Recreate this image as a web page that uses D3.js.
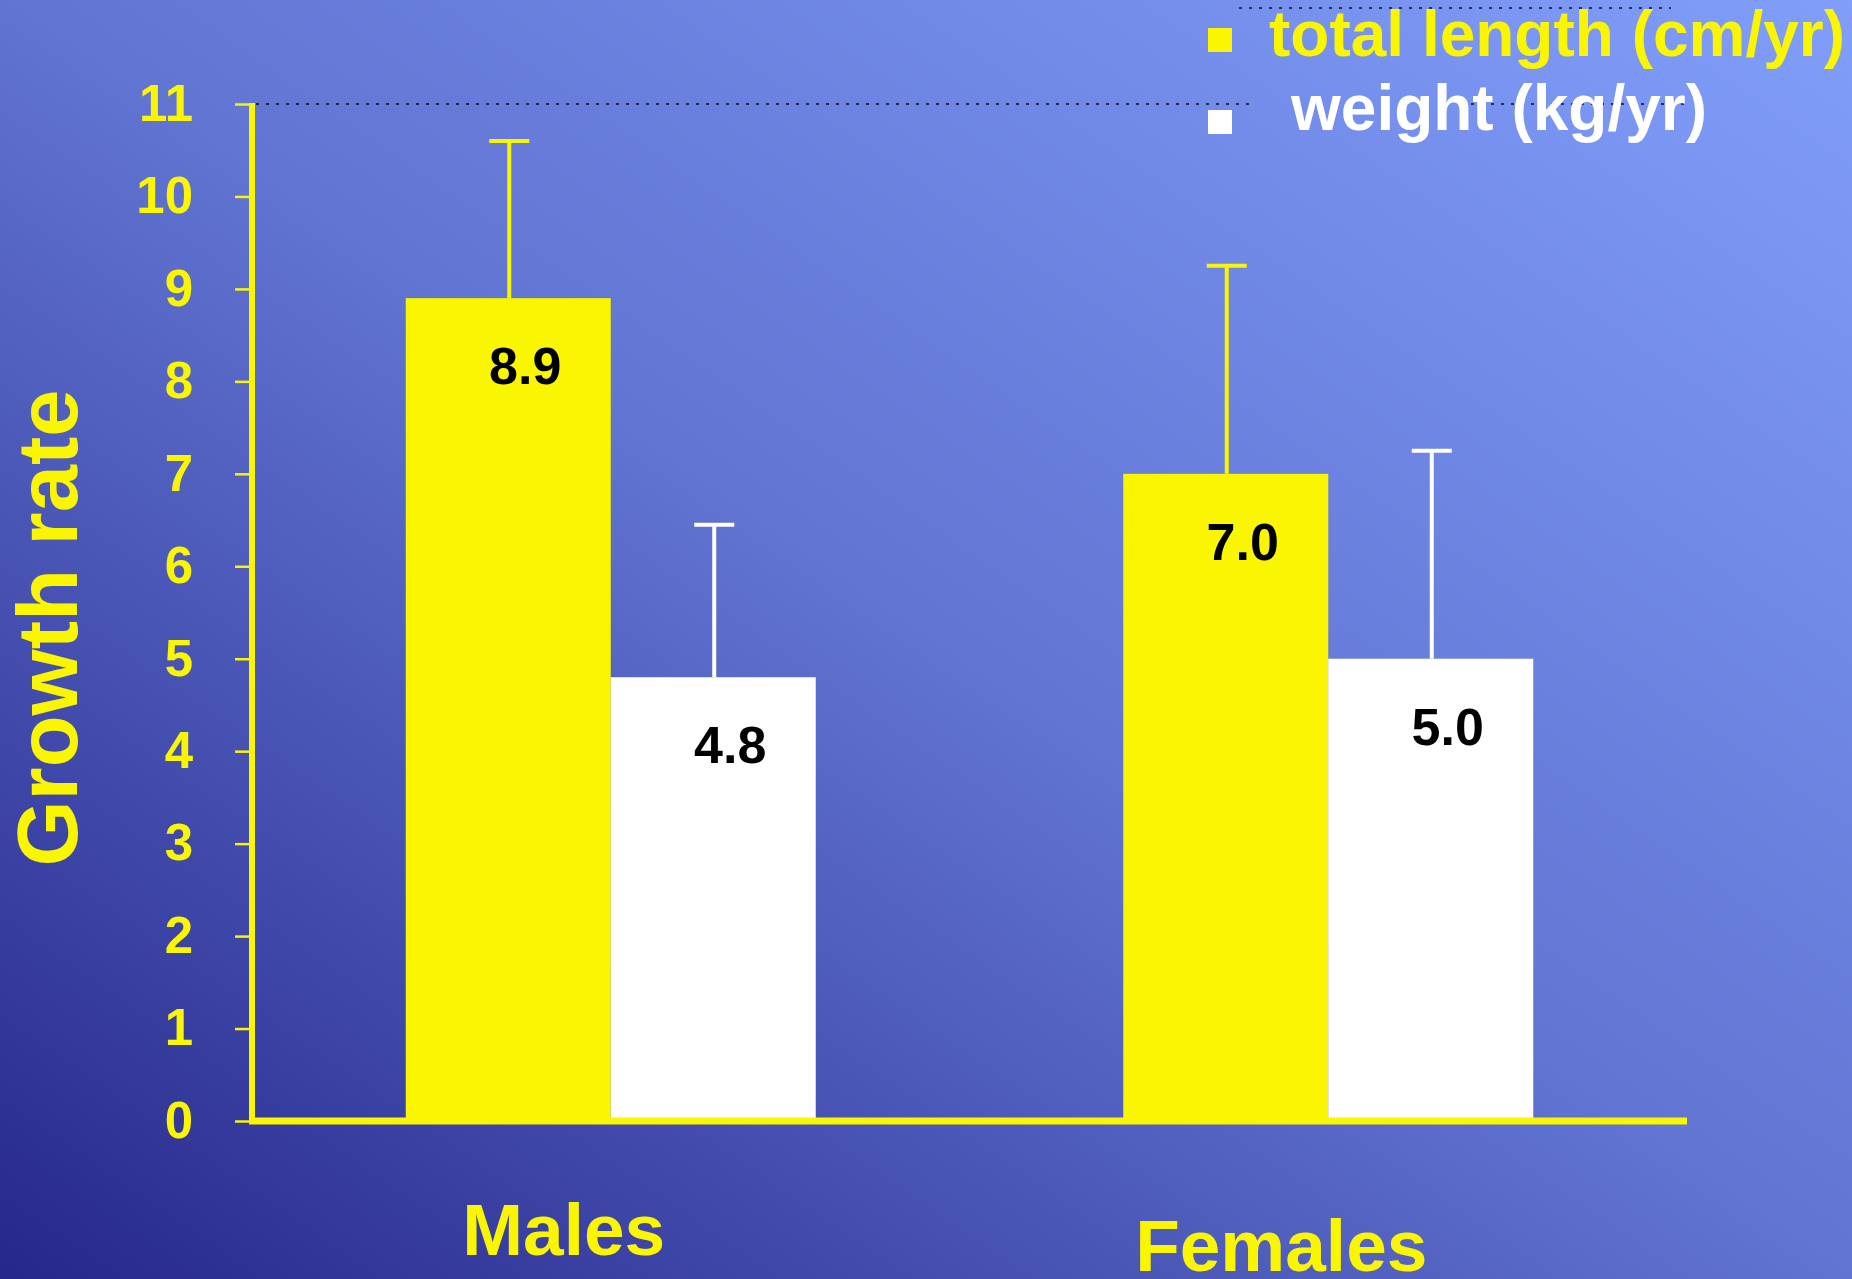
<!DOCTYPE html>
<html>
<head>
<meta charset="utf-8">
<script src="https://cdn.jsdelivr.net/npm/d3@7"></script>
<style>
  html, body { margin: 0; padding: 0; background: #5a6ecc; }
  svg { display: block; }
  text { font-family: "Liberation Sans", Arial, Helvetica, sans-serif; font-weight: bold; }
</style>
</head>
<body>
<svg id="chart" width="1852" height="1279"></svg>
<script>
// Growth rate by sex: mean annual gain with SD whiskers
const categories = ["Males", "Females"];
const seriesNames = ["total length (cm/yr)", "weight (kg/yr)"];
const lengthValues = [8.9, 7.0];
const weightValues = [4.8, 5.0];
const lengthSD = [1.7, 2.25];
const weightSD = [1.65, 2.25];
const yTicks = [0, 1, 2, 3, 4, 5, 6, 7, 8, 9, 10, 11];
const yTitle = "Growth rate";

const YELLOW = "#faf500";
const WHITE = "#ffffff";
const seriesColors = [YELLOW, WHITE];

const W = 1852, H = 1279;
const plot = { left: 252, right: 1687, top: 104, bottom: 1121 };

const svg = d3.select("#chart");

// diagonal backdrop, dark navy bottom-left to periwinkle top-right
const defs = svg.append("defs");
const grad = defs.append("linearGradient")
  .attr("id", "bg").attr("x1", 0).attr("y1", 1).attr("x2", 1).attr("y2", 0);
grad.append("stop").attr("offset", 0).attr("stop-color", "#26278a");
grad.append("stop").attr("offset", 0.5).attr("stop-color", "#6174d2");
grad.append("stop").attr("offset", 1).attr("stop-color", "#819efb");
svg.append("rect").attr("width", W).attr("height", H).attr("fill", "url(#bg)");

const y = d3.scaleLinear().domain([0, 11]).range([plot.bottom, plot.top]);
const x0 = d3.scaleBand().domain(categories)
  .range([plot.left, plot.right]).paddingInner(0.4286).paddingOuter(0.2143);
const x1 = d3.scaleBand().domain(d3.range(seriesNames.length))
  .range([0, x0.bandwidth()]);

const rows = categories.map((c, i) => ({
  cat: c,
  vals: [
    { s: 0, v: lengthValues[i], sd: lengthSD[i] },
    { s: 1, v: weightValues[i], sd: weightSD[i] }
  ]
}));

// dotted guide at the top of the scale
svg.append("line")
  .attr("x1", plot.left + 4).attr("x2", 1251)
  .attr("y1", y(11)).attr("y2", y(11))
  .attr("stroke", "#111").attr("stroke-width", 1.4)
  .attr("stroke-dasharray", "3,7");

// legend frame fragments (dotted)
svg.append("line")
  .attr("x1", 1239).attr("x2", 1671).attr("y1", 8).attr("y2", 8)
  .attr("stroke", "#111").attr("stroke-width", 1.4).attr("stroke-dasharray", "3,7");
svg.append("line")
  .attr("x1", 1461).attr("x2", 1686).attr("y1", y(11)).attr("y2", y(11))
  .attr("stroke", "#111").attr("stroke-width", 1.4).attr("stroke-dasharray", "3,7");

// bars
const groups = svg.append("g").selectAll("g").data(rows).join("g")
  .attr("transform", d => `translate(${x0(d.cat)},0)`);

groups.selectAll("rect").data(d => d.vals).join("rect")
  .attr("x", d => x1(d.s))
  .attr("width", x1.bandwidth())
  .attr("y", d => y(d.v))
  .attr("height", d => y(0) - y(d.v))
  .attr("fill", d => seriesColors[d.s]);

// SD whiskers (upper only)
const capHalf = 20;
groups.selectAll("g.err").data(d => d.vals).join("g").attr("class", "err")
  .each(function (d) {
    const g = d3.select(this);
    const cx = x1(d.s) + x1.bandwidth() / 2 + 1;
    g.append("line")
      .attr("x1", cx).attr("x2", cx)
      .attr("y1", y(d.v)).attr("y2", y(d.v + d.sd))
      .attr("stroke", seriesColors[d.s]).attr("stroke-width", 4);
    g.append("line")
      .attr("x1", cx - capHalf).attr("x2", cx + capHalf)
      .attr("y1", y(d.v + d.sd)).attr("y2", y(d.v + d.sd))
      .attr("stroke", seriesColors[d.s]).attr("stroke-width", 4);
  });

// value labels inside the bars
groups.selectAll("text.val").data(d => d.vals).join("text").attr("class", "val")
  .attr("x", d => x1(d.s) + x1.bandwidth() / 2 + 17)
  .attr("y", d => y(d.v) + 68)
  .attr("dominant-baseline", "central")
  .attr("text-anchor", "middle")
  .attr("font-size", 52)
  .attr("fill", "#000")
  .text(d => d3.format(".1f")(d.v));

// y axis
const yAxis = d3.axisLeft(y).tickValues(yTicks).tickSize(17).tickSizeOuter(0).tickPadding(42);
const ax = svg.append("g").attr("transform", `translate(${plot.left},0)`).call(yAxis);
ax.select(".domain").remove();
ax.selectAll(".tick line").attr("stroke", YELLOW).attr("stroke-width", 2.5);
ax.selectAll(".tick text")
  .attr("fill", YELLOW)
  .attr("font-size", 51)
  .attr("font-family", "'Liberation Sans', Arial, sans-serif")
  .attr("font-weight", "bold");
svg.append("line")
  .attr("x1", plot.left).attr("x2", plot.left)
  .attr("y1", y(11) - 1).attr("y2", y(0) + 3)
  .attr("stroke", YELLOW).attr("stroke-width", 6);

// baseline
svg.append("line")
  .attr("x1", plot.left - 3).attr("x2", plot.right)
  .attr("y1", y(0)).attr("y2", y(0))
  .attr("stroke", YELLOW).attr("stroke-width", 7);

// category labels
const catBaseline = { Males: 1255, Females: 1271 };
svg.append("g").selectAll("text").data(categories).join("text")
  .attr("x", d => x0(d) + x0.bandwidth() / 2 - 47)
  .attr("y", d => catBaseline[d])
  .attr("text-anchor", "middle")
  .attr("font-size", 73)
  .attr("fill", YELLOW)
  .text(d => d);

// y title
svg.append("text")
  .attr("transform", "translate(77,628) rotate(-90)")
  .attr("text-anchor", "middle")
  .attr("font-size", 85)
  .attr("fill", YELLOW)
  .text(yTitle);

// legend
const legendRows = [
  { name: seriesNames[0], color: YELLOW, sy: 40, tx: 1269, ty: 56 },
  { name: seriesNames[1], color: WHITE, sy: 122, tx: 1291, ty: 130 }
];
const lg = svg.append("g");
lg.selectAll("rect").data(legendRows).join("rect")
  .attr("x", 1208).attr("y", d => d.sy - 12)
  .attr("width", 24).attr("height", 24)
  .attr("fill", d => d.color);
lg.selectAll("text").data(legendRows).join("text")
  .attr("x", d => d.tx).attr("y", d => d.ty)
  .attr("font-size", 64)
  .attr("fill", d => d.color)
  .text(d => d.name);
</script>
</body>
</html>
